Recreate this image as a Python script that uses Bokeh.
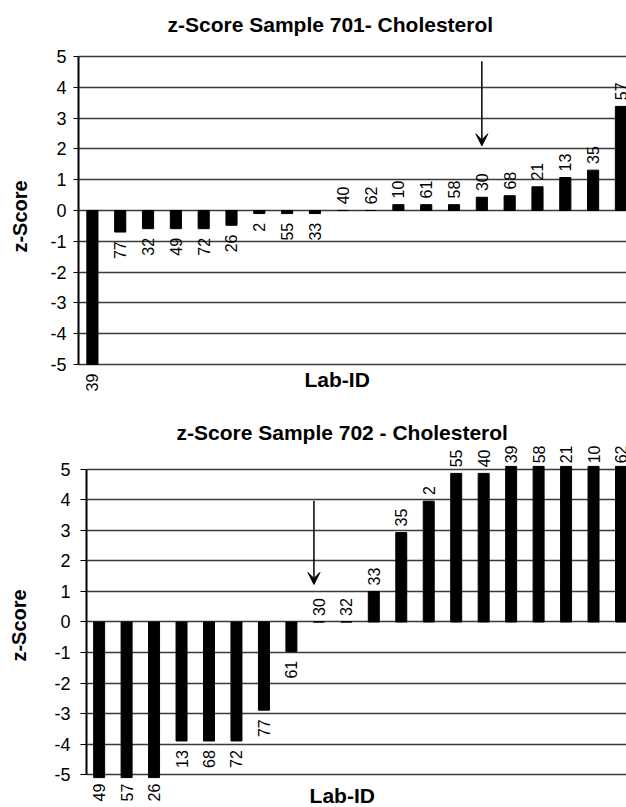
import math
from bokeh.plotting import figure
from bokeh.models import Range1d, FixedTicker, Label, Arrow, VeeHead, ColumnDataSource
from bokeh.layouts import column
from bokeh.embed import file_html
from bokeh.resources import INLINE

FONT = "Liberation Sans"

# ---- data ----
labs_701 = ["39", "77", "32", "49", "72", "26", "2", "55", "33", "40",
            "62", "10", "61", "58", "30", "68", "21", "13", "35", "57"]
z_701 = [-5.0, -0.70, -0.59, -0.59, -0.59, -0.48, -0.10, -0.10, -0.10, 0.0,
         0.0, 0.19, 0.19, 0.19, 0.43, 0.48, 0.77, 1.07, 1.31, 3.38]

labs_702 = ["49", "57", "26", "13", "68", "72", "77", "61", "30", "32",
            "33", "35", "2", "55", "40", "39", "58", "21", "10", "62"]
z_702 = [-5.1, -5.1, -5.1, -3.9, -3.9, -3.9, -2.89, -0.97, 0.0, 0.0,
         1.0, 2.93, 3.96, 4.87, 4.87, 5.1, 5.1, 5.1, 5.1, 5.1]

y_ticks = [-5, -4, -3, -2, -1, 0, 1, 2, 3, 4, 5]
marked_lab = "30"
arrow_701 = (4.85, 2.1)
arrow_702 = (3.97, 1.23)


def make_chart(title, labs, z, height, mb_top, mb_bottom, mb_left, x_start, y_lo, y_hi,
               title_offset, title_standoff, lab_xy,
               tick_out, tick_standoff, label_standoff, arrow_y, arrow_dx):
    n = len(labs)
    p = figure(width=626, height=height,
               x_range=Range1d(x_start, 19.2), y_range=Range1d(y_lo, y_hi),
               output_backend="svg", toolbar_location=None,
               x_axis_location=None,
               min_border_left=mb_left, min_border_right=0,
               min_border_top=mb_top, min_border_bottom=mb_bottom)
    p.frame_align = False
    p.outline_line_color = None
    p.background_fill_color = "white"
    p.border_fill_color = "white"

    p.title.text = title
    p.title.text_font = FONT
    p.title.text_font_size = "21px"
    p.title.text_font_style = "bold"
    p.title.text_color = "black"
    p.title.align = "left"
    p.title.offset = title_offset
    p.title.standoff = title_standoff

    ax = p.yaxis[0]
    ax.ticker = FixedTicker(ticks=y_ticks)
    ax.major_label_overrides = {t: str(t) for t in y_ticks}
    ax.bounds = (min(y_ticks), max(y_ticks))
    ax.axis_label = "z-Score"
    ax.axis_label_text_font = FONT
    ax.axis_label_text_font_size = "20px"
    ax.axis_label_text_font_style = "bold"
    ax.axis_label_text_color = "black"
    ax.axis_label_standoff = label_standoff
    ax.major_label_text_font = FONT
    ax.major_label_text_font_size = "18px"
    ax.major_label_text_color = "black"
    ax.major_label_standoff = tick_standoff
    ax.axis_line_color = "black"
    ax.axis_line_width = 2
    ax.major_tick_line_color = "black"
    ax.major_tick_line_width = 1
    ax.major_tick_in = 0
    ax.major_tick_out = tick_out
    ax.minor_tick_line_color = None

    for g in p.xgrid:
        g.visible = False
    p.ygrid.grid_line_color = "#3a3a3a"
    p.ygrid.grid_line_width = 1.3

    src = ColumnDataSource(dict(x=list(range(n)), top=z, lab=labs))
    p.vbar(x="x", top="top", bottom=0, width=0.4, source=src,
           fill_color="black", line_color="black")

    lo, hi = min(y_ticks), max(y_ticks)
    for i, (lab, v) in enumerate(zip(labs, z)):
        vc = max(lo, min(hi, v))
        if v < 0:
            y, align = vc - 0.3, "right"
        else:
            y, align = vc + 0.2, "left"
        p.add_layout(Label(x=i, y=y, text=lab, angle=math.pi / 2,
                           text_align=align, text_baseline="middle",
                           text_font=FONT, text_font_size="16px",
                           text_color="black"))

    p.add_layout(Label(x=lab_xy[0], y=lab_xy[1], text="Lab-ID",
                       text_align="center", text_baseline="middle",
                       text_font=FONT, text_font_size="21px",
                       text_font_style="bold", text_color="black"))

    xi = labs.index(marked_lab) + arrow_dx
    p.add_layout(Arrow(end=VeeHead(size=12, fill_color="black", line_color="black",
                                   line_width=1),
                       x_start=xi, y_start=arrow_y[0], x_end=xi, y_end=arrow_y[1],
                       line_color="black", line_width=1.5))
    return p


p1 = make_chart("z-Score Sample 701- Cholesterol", labs_701, z_701,
                height=400, mb_top=40, mb_bottom=8, mb_left=78, x_start=-0.5,
                y_lo=-5.91, y_hi=5.52,
                title_offset=89, title_standoff=9, lab_xy=(8.8, -5.49),
                tick_out=5, tick_standoff=7, label_standoff=16,
                arrow_y=arrow_701, arrow_dx=0.0)
p2 = make_chart("z-Score Sample 702 - Cholesterol", labs_702, z_702,
                height=407, mb_top=43, mb_bottom=0, mb_left=86, x_start=-0.46,
                y_lo=-6.08, y_hi=5.85,
                title_offset=90, title_standoff=0, lab_xy=(8.85, -5.69),
                tick_out=6, tick_standoff=10, label_standoff=21,
                arrow_y=arrow_702, arrow_dx=-0.18)

layout = column(p1, p2)
open("out.html", "w").write(file_html(layout, INLINE))
